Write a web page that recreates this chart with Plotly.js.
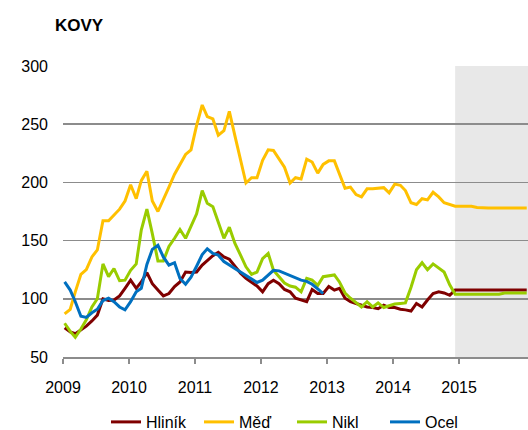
<!DOCTYPE html>
<html><head><meta charset="utf-8">
<script src="https://cdn.plot.ly/plotly-3.0.1.min.js"></script>
<style>html,body{margin:0;padding:0;background:#fff}#chart{width:528px;height:430px}</style>
</head><body><div id="chart"></div>
<script>
// ---- data ----
const startYear = 2009;
const monthCount = 85; // Jan 2009 .. Jan 2016 (forecast from Dec 2014)
const months = [];
for (let k = 0; k < monthCount; k++) {
  const y = startYear + Math.floor(k / 12);
  const m = k % 12 + 1;
  months.push(y + '-' + String(m).padStart(2, '0') + '-10');
}
const yearLabels = ['2009','2010','2011','2012','2013','2014','2015'];
const forecastStart = '2014-12-10';
const forecastEnd = '2016-01-17';
const yTicks = [50, 100, 150, 200, 250, 300];

const hlinik = [75,71.5,70,73,76.5,81,86,100,98.5,99,
  102.5,109,116,109,114.5,122.5,113,107.5,102.5,104.5,
  110.5,114.5,123,122.5,123,129,133,137,140,136,
  134,128,122,117.5,114.5,111,106,113,116,113,
  108,106,100.5,99,97.5,108,104.5,104.5,110.5,107.5,
  109,100.5,97.5,96,94.5,93,92.5,91.5,94.5,92.5,
  92.5,91,90.5,89.5,96,93,99,104.5,106,105,
  103,107.5,
  107.5,107.5,107.5,107.5,107.5,107.5,107.5,107.5,107.5,107.5,107.5,107.5,107.5];

const med = [87,91,106,121,125,136,142,167,167,172,
  177,184,198,186,201.5,209.5,184,175,186,196,
  207,216,224,228,249,266.5,256.5,254.5,240.5,244.5,
  261,240,220,199.5,204,204,219,228,227.5,220,
  213,199.5,204,203,220,217.5,208,215.5,218.5,218.5,
  207.5,195,196,189.5,187.5,194.5,194.5,195,195.5,191,
  198.5,197.5,193,182.5,181,186,185,191.5,187.5,182.5,
  181,179.5,
  179.5,179.5,179.5,178.5,178,178,178,178,178,178,178,178,178];

const nikl = [79,72,67,74,82,93,100,130,119,126,
  115.5,116,124.5,130,159,177,156,132.5,132.5,145,
  152,159.5,152,162,173,193,182,179,165,152,
  161.5,147.5,137.5,127.5,121,123,134.5,139,124.5,119,
  113.5,111,110,106,117.5,116,111.5,119,119.5,120.5,
  114.5,105,100.5,96.5,93,97.5,93,96.5,92.5,94,
  95.5,96,96.5,110,125,131,125,130,126.5,123,
  112,104,
  104,104,104,104,104,104,104,104,105,105,105,105,105];

const ocel = [114.5,107.5,97.5,85,84,88,91,98.5,100.5,97.5,
  93,90.5,97.5,106,109,129.5,142.5,146,136,129,
  131,117.5,112.5,118.5,128,138,143,139,137.5,132,
  129,126,123,120,117,114,116,120,124.5,124,
  122,119.5,117.5,116,115,112.5,108.5,104.5];

const seriesNames = ['Hliník', 'Měď', 'Nikl', 'Ocel'];
const seriesValues = [hlinik, med, nikl, ocel];
const seriesColors = ['#7f0000', '#ffc000', '#99cc00', '#0070c0'];

// ---- chart ----
const FONT = 'Liberation Sans, Arial, sans-serif';
const traces = seriesValues.map((vals, i) => ({
  type: 'scatter', mode: 'lines', name: seriesNames[i],
  x: months.slice(0, vals.length), y: vals,
  line: {color: seriesColors[i], width: 3}
}));

const layout = {
  width: 528, height: 430,
  margin: {l: 63, r: 0, t: 66, b: 73},
  paper_bgcolor: '#fff', plot_bgcolor: '#fff',
  font: {family: FONT, size: 16, color: '#000'},
  title: {text: 'KOVY', font: {family: FONT, size: 17, weight: 'bold', color: '#000'},
    xref: 'container', yref: 'container', x: 55/528, xanchor: 'left', y: 1 - 25/430, yanchor: 'middle'},
  xaxis: {type: 'date', range: ['2009-01-01', forecastEnd],
    tickvals: yearLabels.map(y => y + '-01-01'), ticktext: yearLabels,
    ticks: 'outside', ticklen: 5, tickwidth: 1.5, tickcolor: '#8c8c8c',
    showline: true, linecolor: '#8c8c8c', linewidth: 1.5,
    showgrid: false, zeroline: false, ticklabelstandoff: 10,
    tickfont: {family: FONT, size: 16, color: '#000'}},
  yaxis: {range: [50, 300], tickvals: yTicks,
    showgrid: true, gridcolor: '#8c8c8c', gridwidth: 1.5,
    zeroline: false, showline: false, ticks: '', ticklabelstandoff: 14,
    tickfont: {family: FONT, size: 16, color: '#000'}},
  shapes: [{type: 'rect', xref: 'x', yref: 'y', x0: forecastStart, x1: forecastEnd,
    y0: 50, y1: 300, fillcolor: '#e8e8e8', line: {width: 0}, layer: 'below'}],
  showlegend: true,
  legend: {orientation: 'h', xref: 'container', yref: 'container',
    x: 106/528, xanchor: 'left', y: (430-422)/430, yanchor: 'middle',
    entrywidth: 48, bgcolor: 'rgba(0,0,0,0)', font: {family: FONT, size: 16, color: '#000'}}
};

Plotly.newPlot('chart', traces, layout, {staticPlot: true, displayModeBar: false});
</script>
</body></html>
